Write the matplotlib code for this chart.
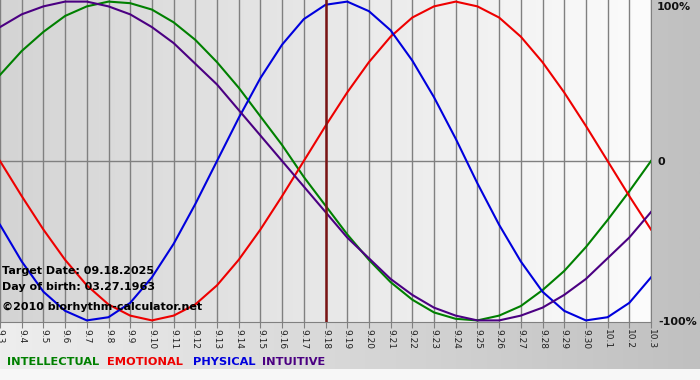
import matplotlib
matplotlib.use("Agg")
import matplotlib.pyplot as plt
import numpy as np
from matplotlib.colors import LinearSegmentedColormap

# days shown on the x axis (Sept 3 -> Oct 3)
days = ["9.3", "9.4", "9.5", "9.6", "9.7", "9.8", "9.9", "9.10", "9.11", "9.12",
        "9.13", "9.14", "9.15", "9.16", "9.17", "9.18", "9.19", "9.20", "9.21", "9.22",
        "9.23", "9.24", "9.25", "9.26", "9.27", "9.28", "9.29", "9.30", "10.1", "10.2", "10.3"]

# values, one per day (-1 .. 1)
intellectual = [0.54, 0.69, 0.81, 0.91, 0.97, 1.00, 0.99, 0.95, 0.87, 0.76,
                0.62, 0.46, 0.28, 0.10, -0.10, -0.28, -0.46, -0.62, -0.76, -0.87,
                -0.95, -0.99, -1.00, -0.97, -0.91, -0.81, -0.69, -0.54, -0.37, -0.19, 0.00]
emotional = [0.00, -0.22, -0.43, -0.62, -0.78, -0.90, -0.97, -1.00, -0.97, -0.90,
             -0.78, -0.62, -0.43, -0.22, 0.00, 0.22, 0.43, 0.62, 0.78, 0.90,
             0.97, 1.00, 0.97, 0.90, 0.78, 0.62, 0.43, 0.22, 0.00, -0.22, -0.43]
physical = [-0.40, -0.63, -0.82, -0.94, -1.00, -0.98, -0.89, -0.73, -0.52, -0.27,
            0.00, 0.27, 0.52, 0.73, 0.89, 0.98, 1.00, 0.94, 0.82, 0.63,
            0.40, 0.14, -0.14, -0.40, -0.63, -0.82, -0.94, -1.00, -0.98, -0.89, -0.73]
intuitive = [0.84, 0.92, 0.97, 1.00, 1.00, 0.97, 0.92, 0.84, 0.74, 0.61,
             0.48, 0.32, 0.16, 0.00, -0.16, -0.32, -0.48, -0.61, -0.74, -0.84,
             -0.92, -0.97, -1.00, -1.00, -0.97, -0.92, -0.84, -0.74, -0.61, -0.48, -0.32]

target_day = "9.18"
target_date = "09.18.2025"
birth_date = "03.27.1963"

W, H = 700, 380


def fx(px):
    return px / W


def fy(py):
    return 1 - py / H


fig = plt.figure(figsize=(7, 3.8), dpi=100, facecolor="#f7f7f7")

# grey gradient behind everything
bg = fig.add_axes([0, fy(369), 1, 369 / H])
bg.axis("off")
cm_bg = LinearSegmentedColormap.from_list("bg", ["#eeeeee", "#c0c0c0"])
bg.imshow(np.linspace(0, 1, 256).reshape(1, -1), cmap=cm_bg, aspect="auto",
          extent=(0, 1, 0, 1))

ax = fig.add_axes([0, fy(322), fx(651), 322 / H])
cm_ax = LinearSegmentedColormap.from_list("ax", ["#d4d4d4", "#fcfcfc"])
x = np.arange(len(days))
ax.imshow(np.linspace(0, 1, 256).reshape(1, -1), cmap=cm_ax, aspect="auto",
          extent=(0, len(days) - 1, -1.01, 1.01), zorder=0)
ax.set_xlim(0, len(days) - 1)
ax.set_ylim(-1.01, 1.01)

ax.set_xticks(x)
ax.set_xticklabels(days, rotation=-90, fontsize=6.5, color="#222222")
ax.tick_params(axis="x", length=4, color="#808080", pad=1)
ax.set_yticks([])
ax.grid(axis="x", color="#808080", lw=1, zorder=1)
ax.axhline(0, color="#808080", lw=1, zorder=1)
ax.spines["top"].set_visible(False)
ax.spines["left"].set_visible(False)
ax.spines["right"].set_color("#808080")
ax.spines["bottom"].set_color("#808080")

ax.plot(x, intellectual, color="#008000", lw=1.5, zorder=3)
ax.plot(x, emotional, color="#ee0000", lw=1.5, zorder=3)
ax.plot(x, physical, color="#0000dd", lw=1.5, zorder=3)
ax.plot(x, intuitive, color="#4b0082", lw=1.5, zorder=3)
ax.axvline(days.index(target_day), color="#7a1414", lw=1.8, zorder=4)

# info text
info = dict(fontsize=8, fontweight="bold", color="black", va="center", zorder=5)
fig.text(fx(2), fy(271), "Target Date: " + target_date, **info)
fig.text(fx(2), fy(287), "Day of birth: " + birth_date, **info)
fig.text(fx(2), fy(307), "\u00a92010 biorhythm-calculator.net", **info)

# percent labels on the right
pct = dict(fontsize=8, fontweight="bold", color="#111111", va="center")
fig.text(fx(657), fy(7), "100%", **pct)
fig.text(fx(658), fy(162), "0", **pct)
fig.text(fx(658), fy(322), "-100%", **pct)

# coloured legend words
leg = dict(fontsize=8.2, fontweight="bold", va="center")
fig.text(fx(7), fy(362), "INTELLECTUAL", color="#008000", **leg)
fig.text(fx(107), fy(362), "EMOTIONAL", color="#ee0000", **leg)
fig.text(fx(193), fy(362), "PHYSICAL", color="#0000dd", **leg)
fig.text(fx(262), fy(362), "INTUITIVE", color="#4b0082", **leg)

fig.savefig("out.png", dpi=100, facecolor=fig.get_facecolor())
